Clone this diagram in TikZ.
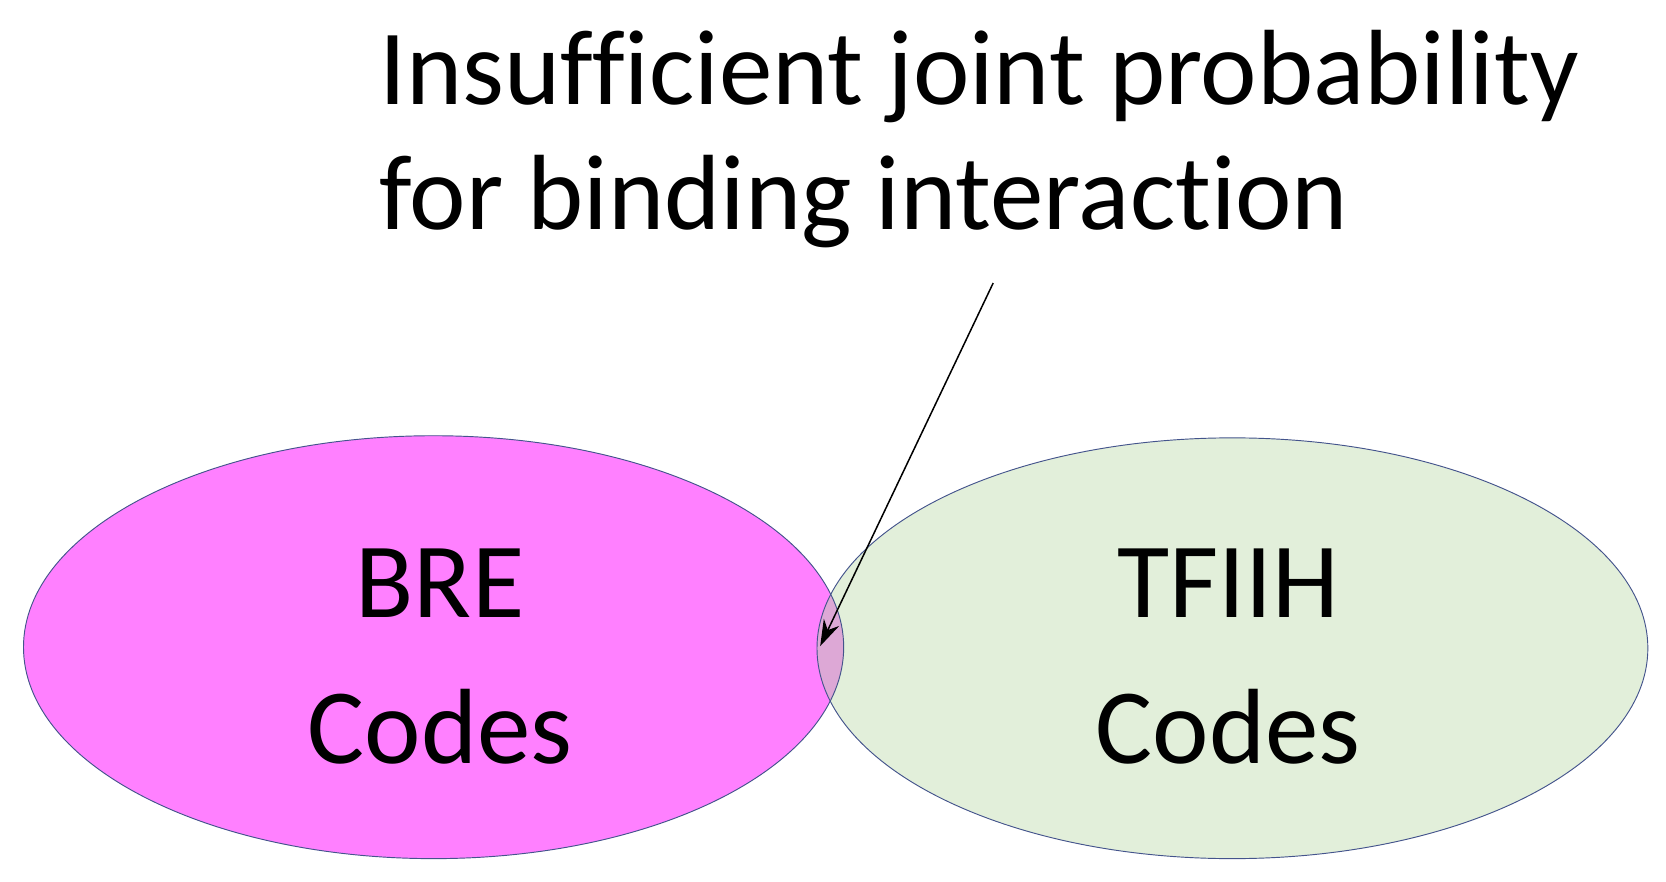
\documentclass[tikz,border=0pt]{standalone}
\usepackage{fontspec}
\setmainfont{Carlito}[Ligatures={NoCommon}]
\usetikzlibrary{arrows.meta}
\definecolor{pinkf}{RGB}{255,128,255}
\definecolor{greenf}{RGB}{226,239,218}
\definecolor{overf}{RGB}{221,168,214}
\definecolor{edge}{RGB}{68,84,140}
\begin{document}
\begin{tikzpicture}[x=0.2mm,y=-0.2mm,
  txt/.style={font=\fontsize{57}{66}\selectfont,inner sep=0pt},
  venn/.style={draw=edge,line width=0.5pt}]
\useasboundingbox (0,0) rectangle (1560,825);
\fill[pinkf] (406,606) ellipse [x radius=384,y radius=198];
\fill[greenf] (1154,607) ellipse [x radius=389,y radius=197];
\begin{scope}
\clip (406,606) ellipse [x radius=384,y radius=198];
\fill[overf] (1154,607) ellipse [x radius=389,y radius=197];
\end{scope}
\draw[venn] (406,606) ellipse [x radius=384,y radius=198];
\draw[venn] (1154,607) ellipse [x radius=389,y radius=197];
\node[txt,anchor=base west] (l1) at (355,98) {Insufficient joint probability};
\node[txt,anchor=base west] (l2) at (355,215) {for binding interaction};
\node[txt,anchor=base] (bre) at (412,578) {BRE};
\node[txt,anchor=base] (brec) at (412,715) {Codes};
\node[txt,anchor=base] (tf) at (1150,578) {TFIIH};
\node[txt,anchor=base] (tfc) at (1150,715) {Codes};
\coordinate (s) at (930,265);
\coordinate (e) at (768,605);
\draw[-{Stealth[length=14pt,width=9pt]},line width=0.8pt] (s) -- (e);
\end{tikzpicture}
\end{document}
